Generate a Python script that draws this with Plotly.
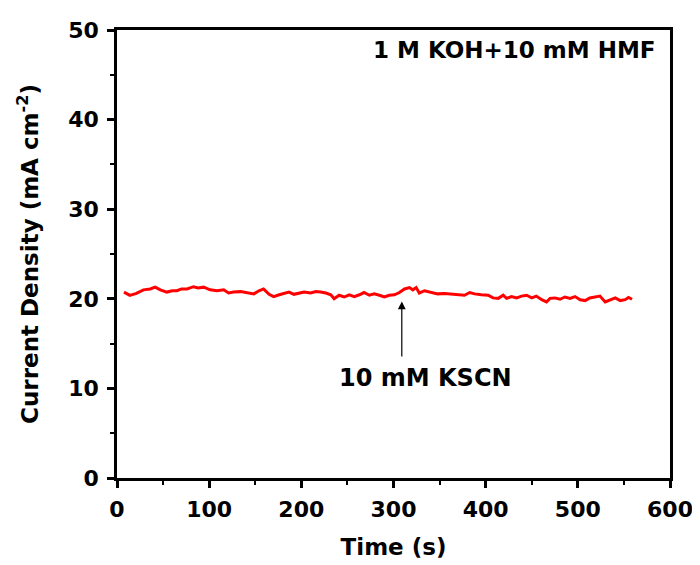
import plotly.graph_objects as go

time_s = [7.6, 14, 21, 28.7, 36, 41.4, 47, 54, 60, 65, 70, 76, 83, 88, 94, 101, 108.6, 115.8,
          121, 126.5, 134, 141, 148.5, 154, 159, 165, 170, 176, 181, 186.6, 192, 197.6, 203,
          210, 215.7, 221, 226.6, 232, 235.6, 241, 246.5, 252, 257.4, 263, 268, 273.8, 279,
          284.7, 290, 295.5, 301, 306.4, 312, 317.3, 321, 324.6, 328, 333.7, 341, 348, 355.5,
          362.7, 370, 377, 382.7, 388, 395.4, 402.7, 408, 413.6, 419, 422.7, 428, 433.6, 439,
          444.4, 450, 455, 460.8, 466, 469.8, 475, 480.7, 486, 491.6, 497, 502.5, 508, 513,
          518.8, 524, 529.7, 535, 540.6, 546, 551.4, 555, 558.8]
current = [20.75, 20.38, 20.6, 21.0, 21.1, 21.3, 21.0, 20.75, 20.9, 20.9, 21.1, 21.1, 21.35, 21.2,
           21.3, 21.0, 20.9, 21.0, 20.65, 20.75, 20.8, 20.7, 20.55, 20.9, 21.1, 20.5, 20.25, 20.45,
           20.6, 20.75, 20.5, 20.6, 20.75, 20.65, 20.8, 20.75, 20.65, 20.45, 20.0, 20.4, 20.2,
           20.45, 20.25, 20.45, 20.7, 20.4, 20.55, 20.4, 20.2, 20.4, 20.45, 20.7, 21.1, 21.25,
           21.0, 21.25, 20.65, 20.9, 20.75, 20.55, 20.6, 20.55, 20.45, 20.4, 20.7, 20.55, 20.45,
           20.4, 20.1, 20.05, 20.4, 20.05, 20.25, 20.1, 20.3, 20.4, 20.1, 20.3, 19.9, 19.65, 20.05,
           20.1, 19.95, 20.2, 20.05, 20.25, 19.9, 19.8, 20.1, 20.25, 20.3, 19.65, 19.9, 20.1, 19.8,
           19.9, 20.15, 19.95]

x_ticks = [0, 100, 200, 300, 400, 500, 600]
y_ticks = [0, 10, 20, 30, 40, 50]

FONT = "DejaVu Sans"

fig = go.Figure()
fig.add_trace(go.Scatter(x=time_s, y=current, mode="lines",
                         line=dict(color="#ff0000", width=3), showlegend=False))

axis_common = dict(showline=True, linecolor="black", linewidth=2.5, mirror=True,
                   ticks="outside", ticklen=7, tickwidth=2.5, tickcolor="black",
                   showgrid=False, zeroline=False, automargin=False,
                   tickfont=dict(family=FONT, size=22, color="black", weight="bold"))

fig.update_xaxes(range=[0, 600], tickvals=x_ticks, ticklabelstandoff=3,
                 minor=dict(dtick=50, ticks="outside", ticklen=4, tickwidth=2, tickcolor="black"),
                 title=dict(text="Time (s)", font=dict(family=FONT, size=23, color="black", weight="bold"),
                            standoff=18),
                 **axis_common)
fig.update_yaxes(range=[0, 50], tickvals=y_ticks, ticklabelstandoff=4,
                 minor=dict(dtick=5, ticks="outside", ticklen=4, tickwidth=2, tickcolor="black"),
                 title=dict(text="Current Density (mA cm<sup>-2</sup>)",
                            font=dict(family=FONT, size=23, color="black", weight="bold"),
                            standoff=24),
                 **axis_common)

fig.add_annotation(x=309, y=19.7, ax=309, ay=13.4, axref="x", ayref="y", text="",
                   showarrow=True, arrowhead=2, arrowsize=1.3, arrowwidth=1.2, arrowcolor="black")
fig.add_annotation(x=335, y=11.2, text="10 mM KSCN", showarrow=False,
                   font=dict(family=FONT, size=24, color="black", weight="bold"))
fig.add_annotation(x=587, y=47.8, text="1 M KOH+10 mM HMF", showarrow=False, xanchor="right",
                   font=dict(family=FONT, size=23, color="black", weight="bold"))

fig.update_layout(width=692, height=557, margin=dict(l=109, r=30, t=22, b=87),
                  plot_bgcolor="white", paper_bgcolor="white")

fig.write_html("out.html")
